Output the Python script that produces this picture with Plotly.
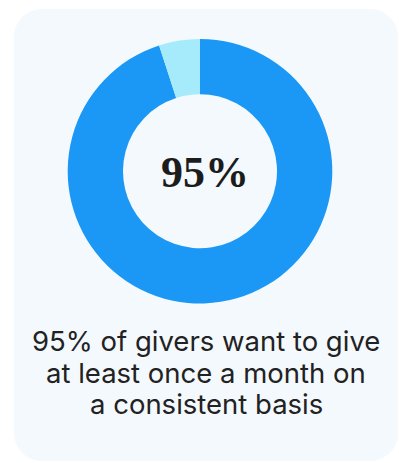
import plotly.graph_objects as go

# Share of givers who want to give at least monthly
labels = ["Give monthly", "Other"]
values = [95, 5]
colors = ["#1b98f5", "#a6ebfc"]
center_label = "95%"
caption_lines = [
    "95% of givers want to give",
    "at least once a month on",
    "a consistent basis",
]

W, H = 399, 463
CARD_BG = "#f4f9fe"


def rounded_rect(x0, y0, x1, y1, r):
    k = 0.5523 * r
    return (
        f"M {x0 + r} {y0} L {x1 - r} {y0} "
        f"C {x1 - r + k} {y0} {x1} {y0 + r - k} {x1} {y0 + r} "
        f"L {x1} {y1 - r} "
        f"C {x1} {y1 - r + k} {x1 - r + k} {y1} {x1 - r} {y1} "
        f"L {x0 + r} {y1} "
        f"C {x0 + r - k} {y1} {x0} {y1 - r + k} {x0} {y1 - r} "
        f"L {x0} {y0 + r} "
        f"C {x0} {y0 + r - k} {x0 + r - k} {y0} {x0 + r} {y0} Z"
    )


# donut geometry in pixels
cx, cy, R = 200.0, 171.2, 132.3

fig = go.Figure()
fig.add_trace(
    go.Pie(
        labels=labels,
        values=values,
        hole=0.582,
        sort=False,
        direction="clockwise",
        rotation=0,
        marker=dict(colors=colors, line=dict(width=0)),
        textinfo="none",
        hoverinfo="label+percent",
        showlegend=False,
        domain=dict(
            x=[(cx - R) / W, (cx + R) / W],
            y=[1 - (cy + R) / H, 1 - (cy - R) / H],
        ),
    )
)

fig.add_shape(
    type="path",
    path=rounded_rect(14, 9, 398, 461, 28),
    xref="x",
    yref="y",
    fillcolor=CARD_BG,
    line=dict(width=0),
    layer="below",
)

fig.add_annotation(
    x=204.5, y=172, xref="x", yref="y",
    text=f"<b>{center_label}</b>",
    showarrow=False,
    font=dict(family="Liberation Serif", size=44, color="#1c1c1c"),
    xanchor="center", yanchor="middle",
)

for i, line in enumerate(caption_lines):
    fig.add_annotation(
        x=206, y=341 + i * 31.5, xref="x", yref="y",
        text=line,
        showarrow=False,
        font=dict(family="Inter", size=27.5, color="#222222"),
        xanchor="center", yanchor="middle",
    )

fig.update_layout(
    width=W,
    height=H,
    margin=dict(l=0, r=0, t=0, b=0),
    paper_bgcolor="white",
    plot_bgcolor="rgba(0,0,0,0)",
    xaxis=dict(range=[0, W], visible=False, fixedrange=True),
    yaxis=dict(range=[H, 0], visible=False, fixedrange=True),
)

fig.write_html("out.html")
